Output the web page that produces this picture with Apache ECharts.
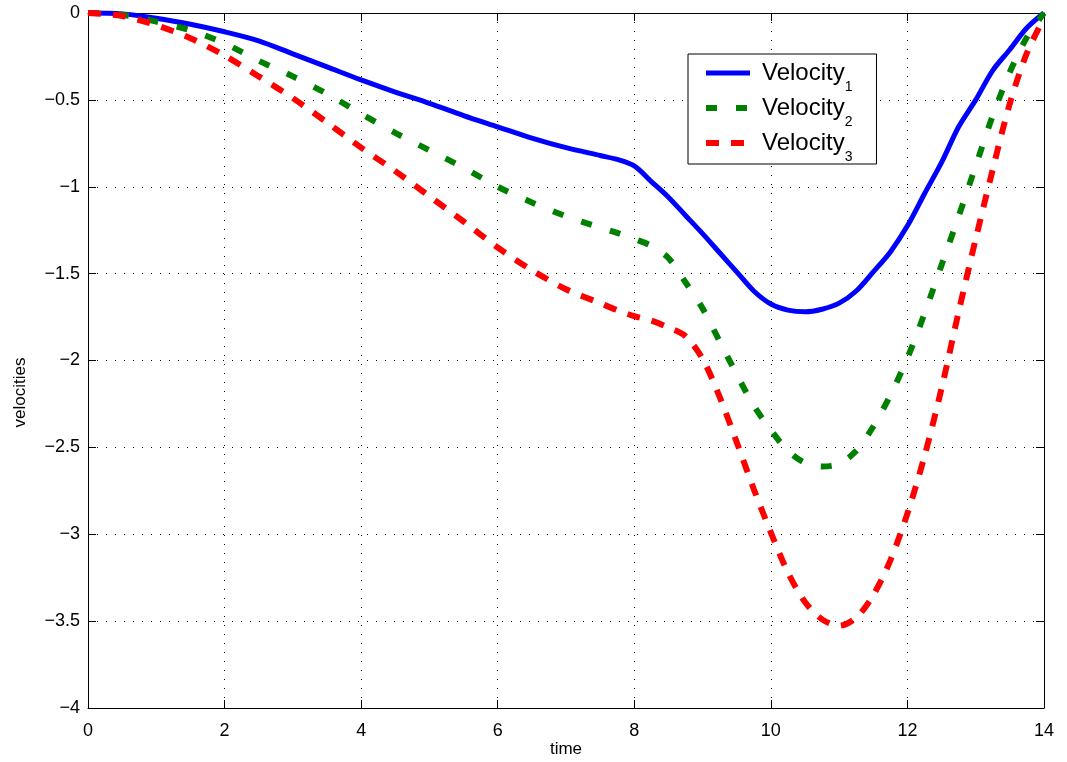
<!DOCTYPE html>
<html>
<head>
<meta charset="utf-8">
<script src="https://cdn.jsdelivr.net/npm/echarts@6/dist/echarts.min.js"></script>
<style>
  html, body { margin: 0; padding: 0; background: #fff; }
  #chart { width: 1067px; height: 762px; }
</style>
</head>
<body>
<div id="chart"></div>
<script>
// Sample times (s) shared by the three velocity traces
const time = [
  0, 0.5, 1, 1.5, 2, 2.5, 3, 3.5, 4, 4.5, 5, 5.5, 6, 6.5, 7, 7.5, 7.75,
  8, 8.25, 8.5, 8.75, 9, 9.25, 9.5, 9.75, 10, 10.25, 10.5, 10.75, 11,
  11.25, 11.5, 11.75, 12, 12.25, 12.5, 12.75, 13, 13.25, 13.5, 13.75, 14
];

const velocity1 = [
  0, -0.005, -0.03, -0.065, -0.108, -0.16, -0.235, -0.31, -0.385, -0.455, -0.52, -0.59, -0.655, -0.72, -0.775, -0.82, -0.843,
  -0.88, -0.97, -1.06, -1.165, -1.27, -1.38, -1.49, -1.6, -1.675, -1.71, -1.72, -1.705, -1.67,
  -1.6, -1.49, -1.375, -1.225, -1.04, -0.86, -0.655, -0.5, -0.33, -0.21, -0.085, 0
];

const velocity2 = [
  0, -0.01, -0.05, -0.1, -0.175, -0.275, -0.365, -0.465, -0.58, -0.69, -0.79, -0.89, -1.0, -1.09, -1.17, -1.235, -1.265,
  -1.3, -1.34, -1.41, -1.55, -1.7, -1.89, -2.08, -2.26, -2.4, -2.52, -2.59, -2.61, -2.595,
  -2.52, -2.38, -2.2, -1.985, -1.73, -1.45, -1.17, -0.88, -0.59, -0.34, -0.14, 0
];

const velocity3 = [
  0, -0.017, -0.07, -0.145, -0.245, -0.365, -0.49, -0.63, -0.775, -0.91, -1.055, -1.2, -1.35, -1.48, -1.59, -1.67, -1.71,
  -1.745, -1.77, -1.81, -1.86, -1.99, -2.21, -2.47, -2.74, -2.99, -3.22, -3.39, -3.49, -3.527,
  -3.48, -3.35, -3.15, -2.88, -2.55, -2.16, -1.72, -1.3, -0.9, -0.52, -0.23, -0.03
];

const seriesNames = ['Velocity1', 'Velocity2', 'Velocity3'];
const xTickLabels = ['0', '2', '4', '6', '8', '10', '12', '14'];
const yTickLabels = ['0', '\u22120.5', '\u22121', '\u22121.5', '\u22122', '\u22122.5', '\u22123', '\u22123.5', '\u22124'];

const FONT = "'Liberation Sans', Arial, Helvetica, sans-serif";

const BLUE = '#0000ff';
const GREEN = '#008000';
const RED = '#ff0000';

function pairs(values) {
  return time.map((t, i) => [t, values[i]]);
}

// fresh style objects so the legend and the series never share one
const blueStyle = () => ({ color: BLUE, width: 5, type: 'solid' });
const greenStyle = () => ({ color: GREEN, width: 6, type: [11, 19], cap: 'butt' });
const redStyle = () => ({ color: RED, width: 6, type: [13, 12], cap: 'butt' });

const chart = echarts.init(document.getElementById('chart'), null, { renderer: 'canvas' });

const boxAxisCommon = {
  axisLine: { show: true, onZero: false, lineStyle: { color: '#000', width: 1 } },
  axisTick: { show: true, inside: true, length: 8, lineStyle: { color: '#000' } },
  axisLabel: { show: false },
  splitLine: { show: false }
};

const lineCommon = {
  type: 'line',
  symbol: 'none',
  smooth: 0.3,
  clip: false,
  animation: false
};

chart.setOption({
  animation: false,
  backgroundColor: '#fff',
  textStyle: { fontFamily: FONT },
  grid: { left: 88, right: 23, top: 13, bottom: 54, containLabel: false, outerBoundsMode: 'none' },
  xAxis: [
    {
      type: 'value', min: 0, max: 14, interval: 2, position: 'bottom',
      name: 'time', nameLocation: 'middle', nameGap: 33, nameMoveOverlap: false,
      nameTextStyle: { color: '#000', fontSize: 17, fontFamily: FONT },
      axisLine: { show: true, onZero: false, lineStyle: { color: '#000', width: 1 } },
      axisTick: { show: true, inside: true, length: 8, lineStyle: { color: '#000' } },
      axisLabel: {
        color: '#000', fontSize: 18, fontFamily: FONT, margin: 14,
        formatter: v => xTickLabels[Math.round(v / 2)]
      },
      splitLine: { show: true, lineStyle: { color: '#000', width: 1, type: [1, 8] } }
    },
    Object.assign({ type: 'value', min: 0, max: 14, interval: 2, position: 'top', gridIndex: 0 }, boxAxisCommon)
  ],
  yAxis: [
    {
      type: 'value', min: -4, max: 0, interval: 0.5, position: 'left',
      name: 'velocities', nameLocation: 'middle', nameGap: 59, nameRotate: 90, nameMoveOverlap: false,
      nameTextStyle: { color: '#000', fontSize: 17, fontFamily: FONT, padding: [0, 64, 0, 0] },
      axisLine: { show: true, onZero: false, lineStyle: { color: '#000', width: 1 } },
      axisTick: { show: true, inside: true, length: 8, lineStyle: { color: '#000' } },
      axisLabel: {
        color: '#000', fontSize: 18, fontFamily: FONT, margin: 8,
        formatter: v => yTickLabels[Math.round(-v / 0.5)]
      },
      splitLine: { show: true, lineStyle: { color: '#000', width: 1, type: [1, 8] } }
    },
    Object.assign({ type: 'value', min: -4, max: 0, interval: 0.5, position: 'right', gridIndex: 0 }, boxAxisCommon)
  ],
  legend: {
    data: [
      { name: seriesNames[0], lineStyle: blueStyle() },
      { name: seriesNames[1], lineStyle: greenStyle() },
      { name: seriesNames[2], lineStyle: redStyle() }
    ],
    orient: 'vertical',
    left: 688,
    top: 54,
    padding: [7, 24, 0, 15],
    itemGap: 2,
    itemWidth: 44,
    itemHeight: 14,
    backgroundColor: '#fff',
    borderColor: '#000',
    borderWidth: 1,
    borderRadius: 0,
    selectedMode: false,
    itemStyle: { opacity: 0, borderWidth: 0 },
    formatter: name => '{v|Velocity}{s|' + name.slice(-1) + '}',
    textStyle: {
      color: '#000',
      fontFamily: FONT,
      rich: {
        v: { fontSize: 24, lineHeight: 24, verticalAlign: 'top', padding: [0, 0, 0, 7], fontFamily: FONT, color: '#000' },
        s: { fontSize: 14, lineHeight: 10, verticalAlign: 'top', padding: [19, 0, 0, 0], fontFamily: FONT, color: '#000' }
      }
    }
  },
  series: [
    Object.assign({}, lineCommon, {
      name: seriesNames[0],
      data: pairs(velocity1),
      lineStyle: blueStyle(),
      itemStyle: { color: BLUE },
      z: 2
    }),
    Object.assign({}, lineCommon, {
      name: seriesNames[1],
      data: pairs(velocity2),
      lineStyle: greenStyle(),
      itemStyle: { color: GREEN },
      z: 3
    }),
    Object.assign({}, lineCommon, {
      name: seriesNames[2],
      data: pairs(velocity3),
      lineStyle: redStyle(),
      itemStyle: { color: RED },
      z: 4
    })
  ]
});
</script>
</body>
</html>
